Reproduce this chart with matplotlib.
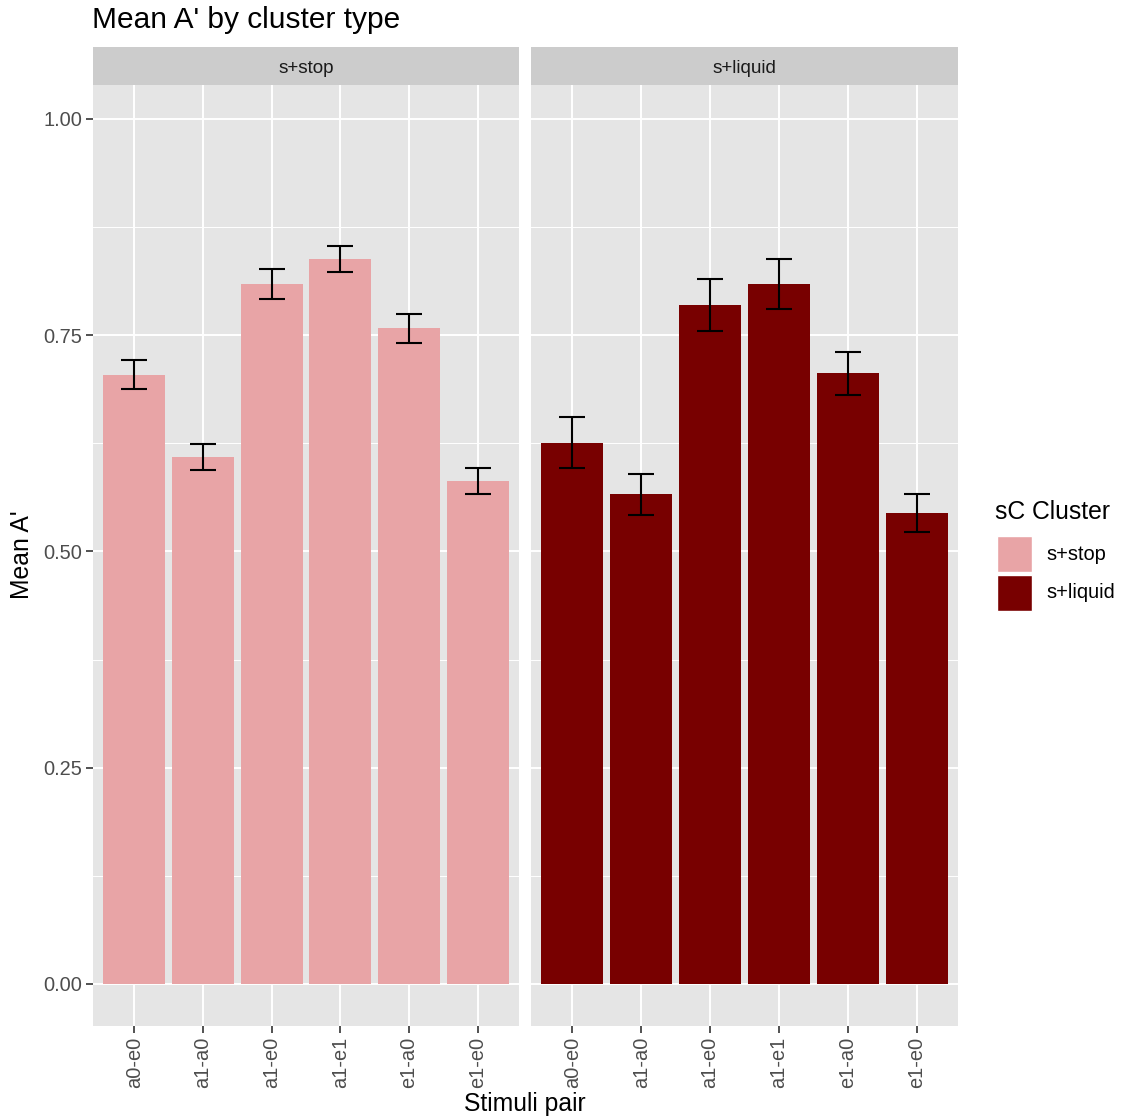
import matplotlib
matplotlib.use("Agg")
import matplotlib.pyplot as plt
from matplotlib.patches import Rectangle
import numpy as np

plt.rcParams['font.family'] = ['Liberation Sans', 'DejaVu Sans']

# Data
pairs = ["a0-e0", "a1-a0", "a1-e0", "a1-e1", "e1-a0", "e1-e0"]
clusters = ["s+stop", "s+liquid"]
mean_stop = [0.704, 0.609, 0.809, 0.838, 0.758, 0.581]
lo_stop = [0.688, 0.594, 0.792, 0.823, 0.741, 0.567]
hi_stop = [0.721, 0.624, 0.826, 0.853, 0.775, 0.596]
mean_liquid = [0.625, 0.566, 0.785, 0.809, 0.706, 0.544]
lo_liquid = [0.596, 0.542, 0.755, 0.780, 0.681, 0.523]
hi_liquid = [0.655, 0.590, 0.815, 0.838, 0.731, 0.566]
yticks = [0.00, 0.25, 0.50, 0.75, 1.00]
ytick_labels = ["0.00", "0.25", "0.50", "0.75", "1.00"]

colors = {"s+stop": "#E8A4A6", "s+liquid": "#780000"}
panel_bg = "#E5E5E5"
strip_bg = "#CCCCCC"

W, H = 1123, 1120
fig = plt.figure(figsize=(W / 100, H / 100), dpi=100)
fig.patch.set_facecolor("white")


def px_rect(x0, y0, x1, y1):
    return [x0 / W, 1 - y1 / H, (x1 - x0) / W, (y1 - y0) / H]


series = {
    "s+stop": (mean_stop, lo_stop, hi_stop),
    "s+liquid": (mean_liquid, lo_liquid, hi_liquid),
}
panels = [(93, 519), (531, 958)]
ylim = (-0.0486, 1.0393)
x = np.arange(1, len(pairs) + 1)

for i, (cl, (x0, x1)) in enumerate(zip(clusters, panels)):
    ax = fig.add_axes(px_rect(x0, 85, x1, 1026))
    ax.set_facecolor(panel_bg)
    ax.set_xlim(0.4, len(pairs) + 0.6)
    ax.set_ylim(*ylim)
    for s in ax.spines.values():
        s.set_visible(False)
    # grid
    for yv in np.arange(0.125, 1.0, 0.25):
        ax.axhline(yv, color="white", lw=0.7, zorder=0.5)
    for yv in yticks:
        ax.axhline(yv, color="white", lw=1.4, zorder=0.6)
    for xv in x:
        ax.axvline(xv, color="white", lw=1.4, zorder=0.6)

    m, lo, hi = series[cl]
    ax.bar(x, m, width=0.9, color=colors[cl], zorder=2)
    m = np.array(m)
    ax.errorbar(x, m, yerr=[m - np.array(lo), np.array(hi) - m], fmt="none",
                ecolor="black", elinewidth=1.5, capsize=9.7, capthick=1.5,
                zorder=3)

    ax.set_xticks(x)
    ax.set_xticklabels(pairs, rotation=90, fontsize=14.4, color="#4D4D4D")
    ax.tick_params(axis="x", length=5, width=1.2, color="#333333", pad=3)
    ax.set_yticks(yticks)
    if i == 0:
        ax.set_yticklabels(ytick_labels, fontsize=14.4, color="#4D4D4D")
        ax.tick_params(axis="y", length=5, width=1.2, color="#333333", pad=3)
    else:
        ax.tick_params(axis="y", length=0, labelleft=False)

    # facet strip
    sax = fig.add_axes(px_rect(x0, 47, x1, 85))
    sax.set_facecolor(strip_bg)
    sax.set_xticks([])
    sax.set_yticks([])
    for s in sax.spines.values():
        s.set_visible(False)
    sax.text(0.5, 0.44, cl, ha="center", va="center", fontsize=13.6,
             color="#1A1A1A", transform=sax.transAxes)

# Titles
fig.text(92 / W, 1 - 20 / H, "Mean A' by cluster type", fontsize=21.5,
         ha="left", va="center", color="black")
fig.text(525 / W, 1 - 1104 / H, "Stimuli pair", fontsize=17.8, ha="center",
         va="center", color="black")
fig.text(22 / W, 1 - 555 / H, "Mean A'", fontsize=17.8, ha="center",
         va="center", rotation=90, color="black")

# Legend
fig.text(995 / W, 1 - 512 / H, "sC Cluster", fontsize=17.8, ha="left",
         va="center", color="black")
for j, cl in enumerate(clusters):
    y0 = 536 + j * 39
    fig.patches.append(Rectangle((997 / W, 1 - (y0 + 36) / H), 35 / W, 36 / H,
                                 transform=fig.transFigure,
                                 facecolor=colors[cl], edgecolor="white",
                                 lw=1.0))
    fig.text(1046 / W, 1 - (y0 + 18) / H, cl, fontsize=14.4, ha="left",
             va="center", color="black")

fig.savefig("out.png", dpi=100)
